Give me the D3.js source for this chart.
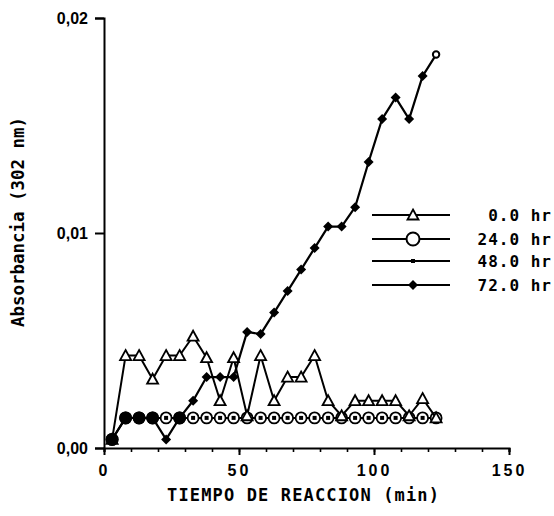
<!DOCTYPE html>
<html>
<head>
<meta charset="utf-8">
<script src="https://cdn.jsdelivr.net/npm/d3@7/dist/d3.min.js"></script>
<style>
  html, body { margin: 0; padding: 0; background: #fff; }
  svg { display: block; }
</style>
</head>
<body>
<svg id="chart" width="554" height="516"></svg>
<script>
// ---- data ----
const times = [3, 8, 13, 18, 23, 28, 33, 38, 43, 48, 53, 58, 63, 68, 73, 78, 83, 88, 93, 98, 103, 108, 113, 118, 123];
const hr0  = [0.0004, 0.0043, 0.0043, 0.0032, 0.0043, 0.0043, 0.0052, 0.0042, 0.0022, 0.0042, 0.0015, 0.0043, 0.0022, 0.0033, 0.0033, 0.0043, 0.0022, 0.0015, 0.0022, 0.0022, 0.0022, 0.0022, 0.0015, 0.0023, 0.0014];
const hr24 = [0.0004, 0.0014, 0.0014, 0.0014, 0.0014, 0.0014, 0.0014, 0.0014, 0.0014, 0.0014, 0.0014, 0.0014, 0.0014, 0.0014, 0.0014, 0.0014, 0.0014, 0.0014, 0.0014, 0.0014, 0.0014, 0.0014, 0.0014, 0.0014, 0.0014];
const hr48 = [0.0004, 0.0014, 0.0014, 0.0014, 0.0014, 0.0014, 0.0014, 0.0014, 0.0014, 0.0014, 0.0014, 0.0014, 0.0014, 0.0014, 0.0014, 0.0014, 0.0014, 0.0014, 0.0014, 0.0014, 0.0014, 0.0014, 0.0014, 0.0014, 0.0014];
const hr72 = [0.0004, 0.0014, 0.0014, 0.0014, 0.0004, 0.0014, 0.0022, 0.0033, 0.0033, 0.0033, 0.0054, 0.0053, 0.0063, 0.0073, 0.0083, 0.0093, 0.0103, 0.0103, 0.0112, 0.0133, 0.0153, 0.0163, 0.0153, 0.0173, 0.0183];
const seriesNames = ["0.0 hr", "24.0 hr", "48.0 hr", "72.0 hr"];
const xTickLabels = [0, 50, 100, 150];
const xMinorTicks = [0, 10, 20, 30, 40, 50, 60, 70, 80, 90, 100, 110, 120, 130, 140, 150];
const yTickValues = [0, 0.01, 0.02];
const yTickLabels = ["0,00", "0,01", "0,02"];
const xTitle = "TIEMPO DE REACCION (min)";
const yTitle = "Absorbancia (302 nm)";

// ---- layout ----
const svg = d3.select("#chart");
const x = d3.scaleLinear().domain([0, 150]).range([104, 509]);
const y = d3.scaleLinear().domain([0, 0.02]).range([448, 18]);

const tickFont = "'Liberation Sans', Arial, sans-serif";
const monoFont = "'DejaVu Sans Mono', monospace";

// x axis
const gx = svg.append("g").attr("transform", `translate(0,${y(0)})`);
gx.call(d3.axisBottom(x).tickValues(xMinorTicks).tickSize(4).tickFormat(""));
gx.select(".domain").attr("stroke", "#000").attr("stroke-width", 2);
gx.selectAll(".tick line").attr("stroke", "#000").attr("stroke-width", 1.6);
const gxMaj = svg.append("g").attr("transform", `translate(0,${y(0)})`);
gxMaj.call(d3.axisBottom(x).tickValues(xTickLabels).tickSize(7).tickPadding(10).tickFormat(d3.format("d")));
gxMaj.select(".domain").remove();
gxMaj.selectAll(".tick line").attr("stroke", "#000").attr("stroke-width", 2);
gxMaj.selectAll(".tick text")
  .attr("font-family", tickFont).attr("font-weight", "bold").attr("font-size", 16)
  .attr("letter-spacing", 3).attr("fill", "#000");

// y axis
const gy = svg.append("g").attr("transform", `translate(${x(0)},0)`);
gy.call(d3.axisLeft(y).tickValues(yTickValues).tickSize(9).tickPadding(7)
  .tickFormat((d, i) => yTickLabels[i]));
gy.select(".domain").attr("stroke", "#000").attr("stroke-width", 2);
gy.selectAll(".tick line").attr("stroke", "#000").attr("stroke-width", 2);
gy.selectAll(".tick text")
  .attr("font-family", tickFont).attr("font-weight", "bold").attr("font-size", 16).attr("fill", "#000");

// titles
svg.append("text")
  .attr("x", 303).attr("y", 501)
  .attr("text-anchor", "middle")
  .attr("font-family", monoFont).attr("font-weight", "bold").attr("font-size", 17)
  .attr("textLength", 272).attr("lengthAdjust", "spacing")
  .text(xTitle);
svg.append("text")
  .attr("transform", "translate(24,222) rotate(-90)")
  .attr("text-anchor", "middle")
  .attr("font-family", monoFont).attr("font-weight", "bold").attr("font-size", 17)
  .attr("textLength", 210).attr("lengthAdjust", "spacingAndGlyphs")
  .text(yTitle);

// ---- markers ----
function triPath(s) { return `M0,${-s*0.55}L${s*0.55},${s*0.45}L${-s*0.55},${s*0.45}Z`; }
function diaPath(s) { return `M0,${-s}L${s},0L0,${s}L${-s},0Z`; }

const line = d3.line().x(d => x(d[0])).y(d => y(d[1]));
const pts = arr => times.map((t, i) => [t, arr[i]]);

function drawLine(arr, w) {
  svg.append("path").datum(pts(arr)).attr("d", line)
    .attr("fill", "none").attr("stroke", "#000").attr("stroke-width", w)
    .attr("stroke-linejoin", "round");
}

// 24 hr circles
drawLine(hr24, 2);
drawLine(hr48, 1.2);
svg.append("g").selectAll("circle").data(pts(hr24)).join("circle")
  .attr("cx", d => x(d[0])).attr("cy", d => y(d[1])).attr("r", 5.5)
  .attr("fill", "#fff").attr("stroke", "#000").attr("stroke-width", 1.8);
// 48 hr small squares
svg.append("g").selectAll("rect").data(pts(hr48)).join("rect")
  .attr("x", d => x(d[0]) - 2).attr("y", d => y(d[1]) - 2).attr("width", 4).attr("height", 4)
  .attr("fill", "#000");
// 0 hr triangles
drawLine(hr0, 2);
svg.append("g").selectAll("path").data(pts(hr0)).join("path")
  .attr("transform", d => `translate(${x(d[0])},${y(d[1])})`)
  .attr("d", triPath(10)).attr("fill", "#fff").attr("stroke", "#000").attr("stroke-width", 1.8);
// 72 hr diamonds
drawLine(hr72, 2.2);
const p72 = pts(hr72);
// where a diamond sits on a circle, the overprint reads as a big solid dot
const overlap = p72.filter((d, i) => i < p72.length - 1 && d[1] === hr24[i]);
svg.append("g").selectAll("circle").data(overlap).join("circle")
  .attr("cx", d => x(d[0])).attr("cy", d => y(d[1])).attr("r", 6.5).attr("fill", "#000");
svg.append("g").selectAll("path").data(p72.slice(0, -1)).join("path")
  .attr("transform", d => `translate(${x(d[0])},${y(d[1])})`)
  .attr("d", diaPath(5)).attr("fill", "#000");
svg.append("g").selectAll("circle").data(p72.slice(-1)).join("circle")
  .attr("cx", d => x(d[0])).attr("cy", d => y(d[1])).attr("r", 3.2)
  .attr("fill", "#fff").attr("stroke", "#000").attr("stroke-width", 2);

// ---- legend ----
const legY = [215, 239, 261, 285];
const leg = svg.append("g");
seriesNames.forEach((name, i) => {
  const gy0 = legY[i];
  leg.append("line").attr("x1", 372).attr("x2", 450).attr("y1", gy0).attr("y2", gy0)
    .attr("stroke", "#000").attr("stroke-width", 2);
  if (i === 0) {
    leg.append("path").attr("transform", `translate(413,${gy0})`).attr("d", triPath(10))
      .attr("fill", "#fff").attr("stroke", "#000").attr("stroke-width", 1.8);
  } else if (i === 1) {
    leg.append("circle").attr("cx", 413).attr("cy", gy0).attr("r", 6.5)
      .attr("fill", "#fff").attr("stroke", "#000").attr("stroke-width", 2);
  } else if (i === 2) {
    leg.append("rect").attr("x", 411).attr("y", gy0 - 2).attr("width", 4).attr("height", 4).attr("fill", "#000");
  } else {
    leg.append("path").attr("transform", `translate(413,${gy0})`).attr("d", diaPath(5)).attr("fill", "#000");
  }
  leg.append("text").attr("x", 552).attr("y", gy0 + 5.5)
    .attr("text-anchor", "end")
    .attr("font-family", monoFont).attr("font-weight", "bold").attr("font-size", 16)
    .attr("letter-spacing", 1)
    .text(name);
});
</script>
</body>
</html>
